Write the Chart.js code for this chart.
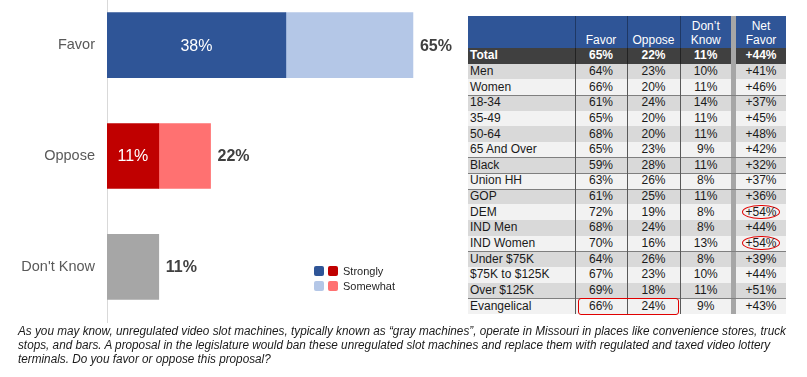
<!DOCTYPE html>
<html>
<head>
<meta charset="utf-8">
<script src="https://cdn.jsdelivr.net/npm/chart.js"></script>
<style>
  body { margin: 0; width: 807px; height: 377px; overflow: hidden; background: #fff; position: relative; font-family: "Liberation Sans", Arial, sans-serif; }
  #chartBox { position: absolute; left: 0; top: -31px; width: 460px; height: 374px; }
  #tableBox { position: absolute; left: 468px; top: 16px; width: 318px; }
  table { border-collapse: collapse; table-layout: fixed; width: 318px; font-size: 12px; color: #1a1a1a; }
  td { padding: 0; height: 15.65px; line-height: 15px; text-align: center; white-space: nowrap; overflow: visible; }
  td.lbl { text-align: left; padding-left: 2px; }
  td.num { border-left: 1px solid #595959; }
  td.sep { background: #a6a6a6; }
  tr.head td { background: #2f5597; color: #fff; height: 31px; vertical-align: bottom; line-height: 14px; padding-bottom: 1px; }
  tr.head td.num { border-left: 1px solid #1f3864; }
  tr.total td { background: #404040; color: #fff; font-weight: bold; }
  tr.total td.num { border-left: 1px solid #222; }
  tr.dark td { background: #d9d9d9; }
  tr.light td { background: #f2f2f2; }
  tr td.sep { background: #a6a6a6 !important; }
  tr.grp td { box-shadow: inset 0 1px 0 #7f7f7f; }
  .circ { display: inline-block; border: 1.5px solid #e00000; border-radius: 50%; padding: 0 2px; line-height: 12px; }
  #box { position: absolute; border: 1.5px solid #e00000; border-radius: 3px; box-sizing: border-box; }
  #caption { position: absolute; left: 18px; top: 324px; font-style: italic; font-size: 12px; line-height: 14px; color: #1a1a1a; transform-origin: 0 0; white-space: nowrap; }
</style>
</head>
<body>
<div id="chartBox"><canvas id="chart"></canvas></div>
<div id="tableBox"><table id="tbl"></table><div id="box"></div></div>
<div id="caption"><span id="line1">As you may know, unregulated video slot machines, typically known as “gray machines”, operate in Missouri in places like convenience stores, truck</span><br>stops, and bars. A proposal in the legislature would ban these unregulated slot machines and replace them with regulated and taxed video lottery<br>terminals. Do you favor or oppose this proposal?</div>
<script>
// chart data
const categories = ["Favor", "Oppose", "Don't Know"];
const strongly = [38, 11, null];
const somewhat = [27, 11, null];
const dontKnow = [null, null, 11];
const totals = [65, 22, 11];

// table data
const colHeads = ["", "Favor", "Oppose", "Don’t<br>Know", "Net<br>Favor"];
const totalRow = ["Total", "65%", "22%", "11%", "+44%"];
const rowLabels = ["Men", "Women", "18-34", "35-49", "50-64", "65 And Over", "Black", "Union HH", "GOP", "DEM", "IND Men", "IND Women", "Under $75K", "$75K to $125K", "Over $125K", "Evangelical"];
const favorPct = [64, 66, 61, 65, 68, 65, 59, 63, 61, 72, 68, 70, 64, 67, 69, 66];
const opposePct = [23, 20, 24, 20, 20, 23, 28, 26, 25, 19, 24, 16, 26, 23, 18, 24];
const dontKnowPct = [10, 11, 14, 11, 11, 9, 11, 8, 11, 8, 8, 13, 8, 10, 11, 9];
const netFavor = [41, 46, 37, 45, 48, 42, 32, 37, 36, 54, 44, 54, 39, 44, 51, 43];
const groupStarts = ["18-34", "Black", "Union HH", "GOP", "Under $75K", "Evangelical"];
const circled = ["DEM", "IND Women"];
const boxedRow = "Evangelical";

// colours
const blueDark = "#2f5597", blueLight = "#b4c7e7";
const redDark = "#c00000", redLight = "#ff7171";
const grey = "#a6a6a6";
const canvasTop = -31;

// build table
const tbl = document.getElementById("tbl");
let html = '<colgroup><col style="width:107px"><col style="width:52px"><col style="width:53px"><col style="width:51px"><col style="width:5px"><col style="width:50px"></colgroup>';
html += '<tr class="head"><td class="lbl"></td><td class="num">' + colHeads[1] + '</td><td class="num">' + colHeads[2] + '</td><td class="num">' + colHeads[3] + '</td><td class="sep"></td><td>' + colHeads[4] + '</td></tr>';
html += '<tr class="total"><td class="lbl">' + totalRow[0] + '</td><td class="num">' + totalRow[1] + '</td><td class="num">' + totalRow[2] + '</td><td class="num">' + totalRow[3] + '</td><td class="sep"></td><td>' + totalRow[4] + '</td></tr>';
rowLabels.forEach((lab, i) => {
  let cls = i % 2 === 0 ? "dark" : "light";
  if (groupStarts.includes(lab)) cls += " grp";
  let net = "+" + netFavor[i] + "%";
  if (circled.includes(lab)) net = '<span class="circ">' + net + '</span>';
  html += '<tr class="' + cls + '"' + (lab === boxedRow ? ' id="boxed"' : '') + '><td class="lbl">' + lab + '</td><td class="num">' + favorPct[i] + '%</td><td class="num">' + opposePct[i] + '%</td><td class="num">' + dontKnowPct[i] + '%</td><td class="sep"></td><td>' + net + '</td></tr>';
});
tbl.innerHTML = html;

// red box around Evangelical favor/oppose
const br = document.getElementById("boxed");
const c1 = br.cells[1].getBoundingClientRect(), c2 = br.cells[2].getBoundingClientRect();
const tb = document.getElementById("tableBox").getBoundingClientRect();
const box = document.getElementById("box");
box.style.left = (c1.left - tb.left + 3) + "px";
box.style.top = (c1.top - tb.top) + "px";
box.style.width = (c2.right - c1.left - 4) + "px";
box.style.height = (c1.height + 1) + "px";

// squeeze caption to the narrow look of the original
const cap = document.getElementById("caption");
const w1 = document.getElementById("line1").getBoundingClientRect().width;
cap.style.transform = "scaleX(" + (768 / w1) + ")";

// labels and legend plugin
const labelPlugin = {
  id: "labels",
  afterDatasetsDraw(chart) {
    const ctx = chart.ctx;
    ctx.save();
    ctx.textBaseline = "middle";
    chart.getDatasetMeta(0).data.forEach((bar, i) => {
      if (strongly[i] == null) return;
      ctx.fillStyle = "#fff";
      ctx.font = "16px 'Liberation Sans', Arial";
      ctx.textAlign = "center";
      ctx.fillText(strongly[i] + "%", (bar.x + bar.base) / 2, bar.y + 1);
    });
    const xs = chart.scales.x, ys = chart.scales.y;
    totals.forEach((t, i) => {
      ctx.fillStyle = "#404040";
      ctx.font = "bold 16px 'Liberation Sans', Arial";
      ctx.textAlign = "left";
      ctx.fillText(t + "%", xs.getPixelForValue(t) + 7, ys.getPixelForValue(i) + 1);
    });
    const lx = 314, ly = 266 - canvasTop;
    [[blueDark, redDark, "Strongly"], [blueLight, redLight, "Somewhat"]].forEach((row, r) => {
      const y = ly + r * 15;
      ctx.fillStyle = row[0];
      ctx.beginPath(); ctx.roundRect(lx, y, 10, 10, 2); ctx.fill();
      ctx.fillStyle = row[1];
      ctx.beginPath(); ctx.roundRect(lx + 14, y, 10, 10, 2); ctx.fill();
      ctx.fillStyle = "#262626";
      ctx.font = "11px 'Liberation Sans', Arial";
      ctx.textAlign = "left";
      ctx.fillText(row[2], lx + 29, y + 6);
    });
    ctx.restore();
  }
};

new Chart(document.getElementById("chart"), {
  type: "bar",
  data: {
    labels: categories,
    datasets: [
      { label: "Strongly", data: strongly, backgroundColor: [blueDark, redDark, grey] },
      { label: "Somewhat", data: somewhat, backgroundColor: [blueLight, redLight, grey] },
      { label: "Don't Know", data: dontKnow, backgroundColor: grey }
    ]
  },
  options: {
    indexAxis: "y",
    responsive: true,
    maintainAspectRatio: false,
    animation: false,
    layout: { padding: 0 },
    plugins: { legend: { display: false }, tooltip: { enabled: false } },
    datasets: { bar: { barThickness: 65 } },
    scales: {
      x: { stacked: true, min: 0, max: 75, display: false },
      y: {
        stacked: true,
        grid: { display: false, drawTicks: false },
        border: { display: true, color: "#d9d9d9", width: 1 },
        ticks: { color: "#595959", font: { size: 14.5, family: "'Liberation Sans', Arial" }, padding: 12 },
        afterFit(scale) { scale.width = 107; }
      }
    }
  },
  plugins: [labelPlugin]
});
</script>
</body>
</html>
